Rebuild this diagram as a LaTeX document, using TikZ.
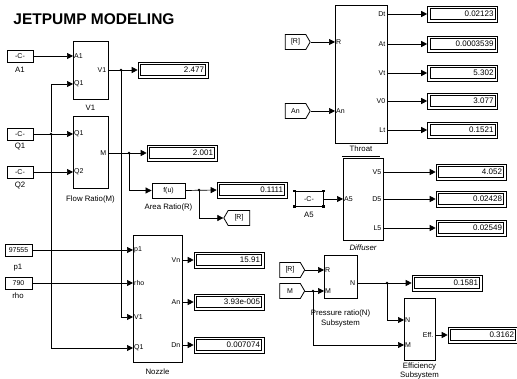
\documentclass[tikz,border=0pt]{standalone}
\usepackage{fontspec}
\setmainfont{Liberation Sans}
\usetikzlibrary{arrows.meta,shapes.symbols}
\begin{document}
\begin{tikzpicture}[x=1pt,y=-1pt,
  blk/.style={draw, line width=0.8pt, inner sep=0pt},
  const/.style={draw, line width=0.8pt, minimum width=26pt, minimum height=12pt, inner sep=0pt, font=\fontsize{7}{8}\selectfont},
  disp/.style={draw, line width=0.6pt, minimum height=16pt, text width=62pt, align=right, inner xsep=4pt, inner ysep=0pt,
    font=\fontsize{8}{9}\selectfont,
    path picture={\draw[line width=1pt] ([xshift=2.5pt,yshift=-2.5pt]path picture bounding box.north west) rectangle ([xshift=-2.5pt,yshift=2.5pt]path picture bounding box.south east);}},
  fromtag/.style={signal, signal to=east, signal pointer angle=120, draw, line width=0.8pt, minimum width=25pt, minimum height=15pt, inner sep=1pt, font=\fontsize{7}{8}\selectfont},
  gototag/.style={signal, signal to=west, signal pointer angle=120, draw, line width=0.8pt, minimum width=26pt, minimum height=15pt, inner sep=1pt, font=\fontsize{7}{8}\selectfont},
  sig/.style={-{Triangle[length=6pt,width=6pt]}, line width=0.7pt},
  lbl/.style={font=\fontsize{7.8}{9}\selectfont, inner sep=0pt},
  pin/.style={font=\fontsize{7}{8}\selectfont, inner sep=1pt, anchor=west},
  pout/.style={font=\fontsize{7}{8}\selectfont, inner sep=1.5pt, anchor=east},
  jn/.style={circle, fill, inner sep=0pt, minimum size=2.6pt}]
\useasboundingbox (0,0) rectangle (517,379);
\fill[white] (0,0) rectangle (517,379);

% title
\node[font=\fontsize{15.5}{17}\bfseries, inner sep=0pt] (title) at (94,19) {JETPUMP MODELING};

% constants
\node[const] (cA1) at (20,56) {-C-};
\node[lbl] (lA1) at (20,70) {A1};
\node[const] (cQ1) at (20,134) {-C-};
\node[lbl] (lQ1) at (20,147) {Q1};
\node[const] (cQ2) at (20,172) {-C-};
\node[lbl] (lQ2) at (20,186) {Q2};
\node[const, minimum width=27pt] (cp1) at (18.5,250) {97555};
\node[lbl] (lp1) at (18,268) {p1};
\node[const, minimum width=27pt] (crho) at (18.5,283) {790};
\node[lbl] (lrho) at (18,296) {rho};

% V1 block
\node[blk, minimum width=35pt, minimum height=58pt] (V1) at (90.5,70) {};
\node[lbl] at (90.5,108) {V1};
\coordinate (V1a) at (73,56);
\coordinate (V1q) at (73,84);
\coordinate (V1o) at (108,70);
\node[pin] at (V1a) {A1};
\node[pin] at (V1q) {Q1};
\node[pout] at (V1o) {V1};
\node[disp] (dV1) at (173,70) {2.477};

% Flow ratio block
\node[blk, minimum width=35pt, minimum height=72pt] (FR) at (90.5,152) {};
\node[lbl] at (90.5,199) {Flow Ratio(M)};
\coordinate (FRq1) at (73,134);
\coordinate (FRq2) at (73,172);
\coordinate (FRo) at (108,153);
\node[pin] at (FRq1) {Q1};
\node[pin] at (FRq2) {Q2};
\node[pout] at (FRo) {M};
\node[disp] (dM) at (182,153) {2.001};

% Area ratio
\node[blk, minimum width=33pt, minimum height=15pt, font=\fontsize{7}{8}\selectfont] (fu) at (168.5,190.5) {f(u)};
\node[lbl] at (168.5,207) {Area Ratio(R)};
\node[disp] (dR) at (252,190) {0.1111};
\node[gototag] (gR) at (239,218) {[R]};

% Nozzle
\node[blk, minimum width=49pt, minimum height=127pt] (Nz) at (157.5,298.5) {};
\node[lbl] at (157.5,372) {Nozzle};
\coordinate (Nzp) at (133,250);
\coordinate (Nzr) at (133,283);
\coordinate (Nzv) at (133,317);
\coordinate (Nzq) at (133,348);
\coordinate (NzVn) at (182,260);
\coordinate (NzAn) at (182,302);
\coordinate (NzDn) at (182,345);
\node[pin] at (Nzp) {p1};
\node[pin] at (Nzr) {rho};
\node[pin] at (Nzv) {V1};
\node[pin] at (Nzq) {Q1};
\node[pout] at (NzVn) {Vn};
\node[pout] at (NzAn) {An};
\node[pout] at (NzDn) {Dn};
\node[disp] (dVn) at (229,260) {15.91};
\node[disp] (dAn) at (229,302) {3.93e-005};
\node[disp] (dDn) at (229,345) {0.007074};

% Throat
\node[blk, minimum width=52pt, minimum height=138pt] (Th) at (361,74) {};
\node[lbl] (lTh) at (361,149) {Throat};
\draw[line width=0.5pt] (342,156) -- (380,156);
\coordinate (ThR) at (335,42);
\coordinate (ThAn) at (335,111);
\coordinate (ThDt) at (387,14);
\coordinate (ThAt) at (387,44);
\coordinate (ThVt) at (387,73);
\coordinate (ThV0) at (387,101);
\coordinate (ThLt) at (387,130);
\node[pin] at (ThR) {R};
\node[pin] at (ThAn) {An};
\node[pout] at (ThDt) {Dt};
\node[pout] at (ThAt) {At};
\node[pout] at (ThVt) {Vt};
\node[pout] at (ThV0) {V0};
\node[pout] at (ThLt) {Lt};
\node[fromtag] (fR1) at (295.5,42) {[R]};
\node[fromtag] (fAn) at (295.5,111) {An};
\node[disp] (dDt) at (462.5,14) {0.02123};
\node[disp] (dAt) at (462.5,44) {0.0003539};
\node[disp] (dVt) at (462.5,73) {5.302};
\node[disp] (dV0) at (462.5,101) {3.077};
\node[disp] (dLt) at (462.5,130) {0.1521};

% Diffuser
\node[blk, minimum width=40pt, minimum height=82pt] (Df) at (363,199) {};
\node[lbl, font=\fontsize{7.8}{9}\itshape] at (363,248) {Diffuser};
\coordinate (DfA) at (343,199);
\coordinate (DfV) at (383,172);
\coordinate (DfD) at (383,199);
\coordinate (DfL) at (383,228);
\node[pin] at (DfA) {A5};
\node[pout] at (DfV) {V5};
\node[pout] at (DfD) {D5};
\node[pout] at (DfL) {L5};
\node[const, minimum width=28pt, minimum height=15pt] (cA5) at (309,199) {-C-};
\foreach \c in {north west,north east,south west,south east}
  \fill (cA5.\c) +(-1.4pt,-1.4pt) rectangle +(1.4pt,1.4pt);
\node[lbl] at (309,215) {A5};
\node[disp] (dV5) at (471,172) {4.052};
\node[disp] (dD5) at (471,199) {0.02428};
\node[disp] (dL5) at (471,228) {0.02549};

% Pressure ratio
\node[blk, minimum width=33pt, minimum height=43pt] (PR) at (340.5,276.5) {};
\node[lbl] at (340.5,313) {Pressure ratio(N)};
\node[lbl] at (340.5,323) {Subsystem};
\coordinate (PRr) at (324,270);
\coordinate (PRm) at (324,291);
\coordinate (PRo) at (357,283);
\node[pin] at (PRr) {R};
\node[pin] at (PRm) {M};
\node[pout] at (PRo) {N};
\node[fromtag] (fR2) at (290,270) {[R]};
\node[fromtag] (fM) at (290,291) {M};
\node[disp] (dN) at (447,283) {0.1581};

% Efficiency
\node[blk, minimum width=31pt, minimum height=62pt] (Ef) at (419.5,329) {};
\node[lbl] at (419.5,366) {Efficiency};
\node[lbl] at (419.5,375) {Subsystem};
\coordinate (EfN) at (404,320);
\coordinate (EfM) at (404,345);
\coordinate (EfO) at (435,335);
\node[pin] at (EfN) {N};
\node[pin] at (EfM) {M};
\node[pout] at (EfO) {Eff.};
\node[disp] (dEf) at (483,335) {0.3162};

% junctions
\node[jn] (jV1) at (121,70) {};
\node[jn] (jQ) at (51,134) {};
\node[jn] (jM) at (129,153) {};
\node[jn] (jR) at (199,190) {};
\node[jn] (jN) at (387,283) {};
\node[jn] (jMM) at (313,291) {};

% connectors
\draw[sig] (cA1.east) -- (V1a);
\draw[sig] (V1o) -- (dV1.west);
\draw[sig] (jV1) |- (Nzv);
\draw[sig] (cQ1.east) -- (FRq1);
\draw[sig] (jQ) |- (V1q);
\draw[sig] (jQ) |- (Nzq);
\draw[sig] (cQ2.east) -- (FRq2);
\draw[sig] (FRo) -- (dM.west);
\draw[sig] (jM) |- (fu.west);
\draw[sig] (fu.east) -- (dR.west);
\draw[sig] (jR) |- (gR.west);
\draw[sig] (cp1.east) -- (Nzp);
\draw[sig] (crho.east) -- (Nzr);
\draw[sig] (NzVn) -- (dVn.west);
\draw[sig] (NzAn) -- (dAn.west);
\draw[sig] (NzDn) -- (dDn.west);
\draw[sig] (fR1.east) -- (ThR);
\draw[sig] (fAn.east) -- (ThAn);
\draw[sig] (ThDt) -- (dDt.west);
\draw[sig] (ThAt) -- (dAt.west);
\draw[sig] (ThVt) -- (dVt.west);
\draw[sig] (ThV0) -- (dV0.west);
\draw[sig] (ThLt) -- (dLt.west);
\draw[sig] (cA5.east) -- (DfA);
\draw[sig] (DfV) -- (dV5.west);
\draw[sig] (DfD) -- (dD5.west);
\draw[sig] (DfL) -- (dL5.west);
\draw[sig] (fR2.east) -- (PRr);
\draw[sig] (fM.east) -- (PRm);
\draw[sig] (PRo) -- (dN.west);
\draw[sig] (jN) |- (EfN);
\draw[sig] (jMM) |- (EfM);
\draw[sig] (EfO) -- (dEf.west);
\end{tikzpicture}
\end{document}
